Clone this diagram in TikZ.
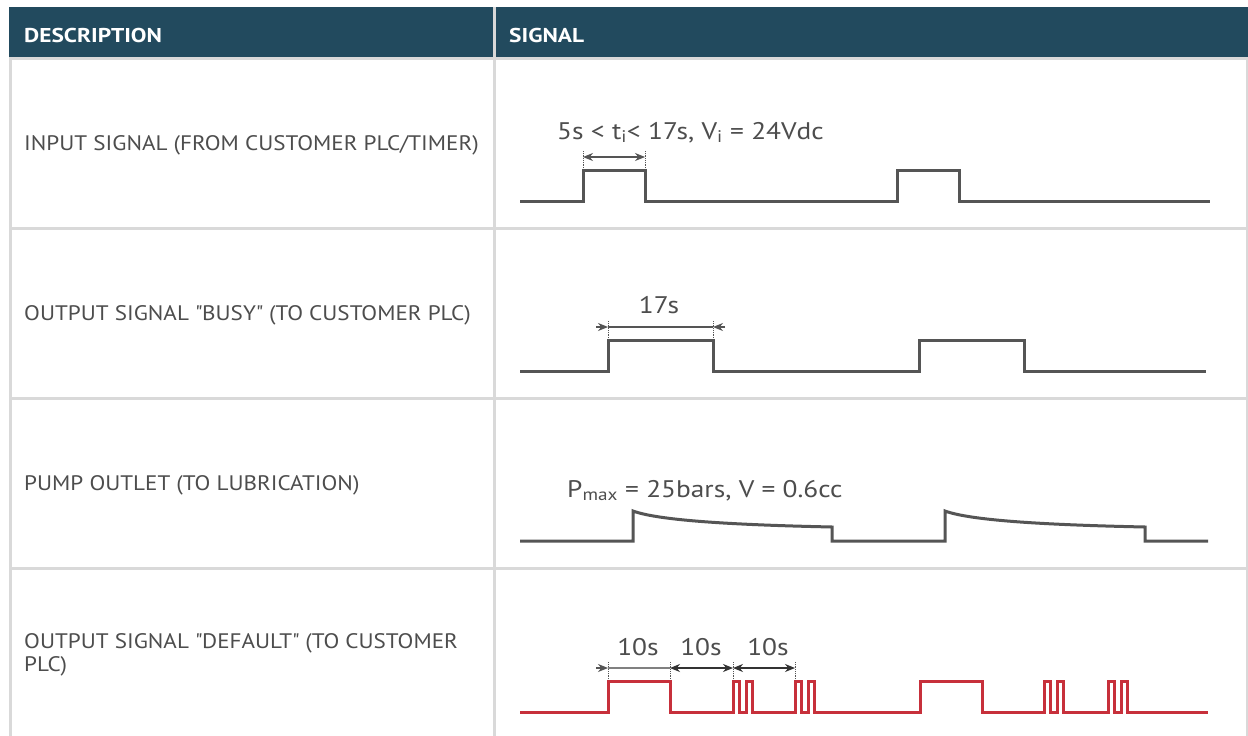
\documentclass[tikz,border=0pt]{standalone}
\usepackage{fontspec}
\setmainfont{PT Sans}
\newfontfamily\descfont{PT Sans}[FakeStretch=1.1]
\newfontfamily\valfont{PT Sans}[FakeStretch=1.14]
\newfontfamily\headfont{PT Sans}[FakeStretch=1.17]
\usetikzlibrary{arrows.meta}
\definecolor{headblue}{HTML}{224A5E}
\definecolor{gridgray}{HTML}{D9D9D9}
\definecolor{siggray}{HTML}{555555}
\definecolor{txtgray}{HTML}{4D4D4D}
\definecolor{sigred}{HTML}{C7303B}
\tikzset{
	grid/.style={gridgray, line width=3pt},
	sig/.style={siggray, line width=3pt, line join=miter},
	redsig/.style={sig, sigred},
	ext/.style={siggray, densely dotted, line width=0.8pt},
	dim/.style={siggray, line width=1.2pt},
	tip/.style={-{Stealth[length=10pt,width=8pt]}},
	both/.style={{Stealth[length=10pt,width=8pt]}-{Stealth[length=10pt,width=8pt]}},
	desc/.style={anchor=base west, inner sep=0pt, txtgray, font=\descfont\fontsize{21}{23}\selectfont, align=left},
	head/.style={anchor=base west, inner sep=0pt, white, font=\headfont\fontsize{20}{22}\selectfont\bfseries},
	val/.style={anchor=base, inner sep=0pt, txtgray, font=\valfont\fontsize{24}{26}\selectfont}
}
\begin{document}
\begin{tikzpicture}[x=1pt,y=-1pt]
	\useasboundingbox (0,0) rectangle (1248,736);
	\fill[white] (0,0) rectangle (1248,736);

	\fill[headblue] (9,7) rectangle (1248,57);
	\draw[grid] (10,57) -- (10,736) (1247,57) -- (1247,736) (494,7) -- (494,736);
	\foreach \y in {58,228,398,568}
		\draw[grid] (9,\y) -- (1248,\y);

	\node[head] (hdesc) at (24,42) {DESCRIPTION};
	\node[head] (hsig) at (509,42) {SIGNAL};

	\node[desc] (dinput) at (24,150) {INPUT SIGNAL (FROM CUSTOMER PLC/TIMER)};
	\node[desc] (dbusy) at (24,320) {OUTPUT SIGNAL \textquotedbl BUSY\textquotedbl\ (TO CUSTOMER PLC)};
	\node[desc] (dpump) at (24,490) {PUMP OUTLET (TO LUBRICATION)};
	\node[desc, anchor=north west] (ddefault) at (24,633) {OUTPUT SIGNAL \textquotedbl DEFAULT\textquotedbl\ (TO CUSTOMER\\PLC)};

	% input signal
	\draw[sig] (520,201) -- (583,201) -- (583,170) -- (645,170) -- (645,201) -- (897,201)
		-- (897,170) -- (959,170) -- (959,201) -- (1210,201);
	\coordinate (ia) at (583,157);
	\coordinate (ib) at (645,157);
	\draw[ext] (583,151) -- (583,169) (645,151) -- (645,169);
	\draw[dim, both] (ia) -- (ib);
	\node[val, anchor=base west] (vinput) at (557,139) {5s < t\textsubscript{i}< 17s, V\textsubscript{i} = 24Vdc};

	% busy signal
	\draw[sig] (520,371) -- (608,371) -- (608,340) -- (713,340) -- (713,371) -- (919,371)
		-- (919,340) -- (1024,340) -- (1024,371) -- (1206,371);
	\coordinate (ba) at (608,327);
	\coordinate (bb) at (713,327);
	\draw[ext] (608,321) -- (608,339) (713,321) -- (713,339);
	\draw[dim, tip] (596,327) -- (ba);
	\draw[dim, tip] (725,327) -- (bb);
	\draw[dim] (ba) -- (bb);
	\node[val] (vbusy) at (659,313) {17s};

	% pump outlet
	\draw[sig] (520,541) -- (633,541) -- (633,511) .. controls (660,521) and (740,525) .. (832,527)
		-- (832,541) -- (945,541) -- (945,511) .. controls (972,521) and (1052,525) .. (1145,527)
		-- (1145,541) -- (1208,541);
	\node[val, anchor=base west] (vpump) at (567,497) {P\textsubscript{max} = 25bars, V = 0.6cc};

	% default signal
	\draw[redsig] (520,712) -- (608,712) -- (608,681) -- (670,681) -- (670,712)
		-- (733,712) -- (733,681) -- (739,681) -- (739,712) -- (746,712) -- (746,681) -- (752,681) -- (752,712)
		-- (795,712) -- (795,681) -- (801,681) -- (801,712) -- (808,712) -- (808,681) -- (814,681) -- (814,712)
		-- (920,712) -- (920,681) -- (982,681) -- (982,712)
		-- (1044,712) -- (1044,681) -- (1050,681) -- (1050,712) -- (1057,712) -- (1057,681) -- (1063,681) -- (1063,712)
		-- (1108,712) -- (1108,681) -- (1114,681) -- (1114,712) -- (1121,712) -- (1121,681) -- (1127,681) -- (1127,712)
		-- (1208,712);
	\coordinate (d0) at (608,668);
	\coordinate (d1) at (670,668);
	\coordinate (d2) at (733,668);
	\coordinate (d3) at (795,668);
	\foreach \x in {608,670,733,795}
		\draw[ext] (\x,662) -- (\x,680);
	\draw[dim, tip] (596,668) -- (d0);
	\draw[dim, gray] (d0) -- (d1);
	\draw[dim, black!80, both] (d1) -- (d2);
	\draw[dim, black!80, both] (d2) -- (d3);
	\node[val] (vten1) at (638,655) {10s};
	\node[val] (vten2) at (701,655) {10s};
	\node[val] (vten3) at (768,655) {10s};
\end{tikzpicture}
\end{document}
